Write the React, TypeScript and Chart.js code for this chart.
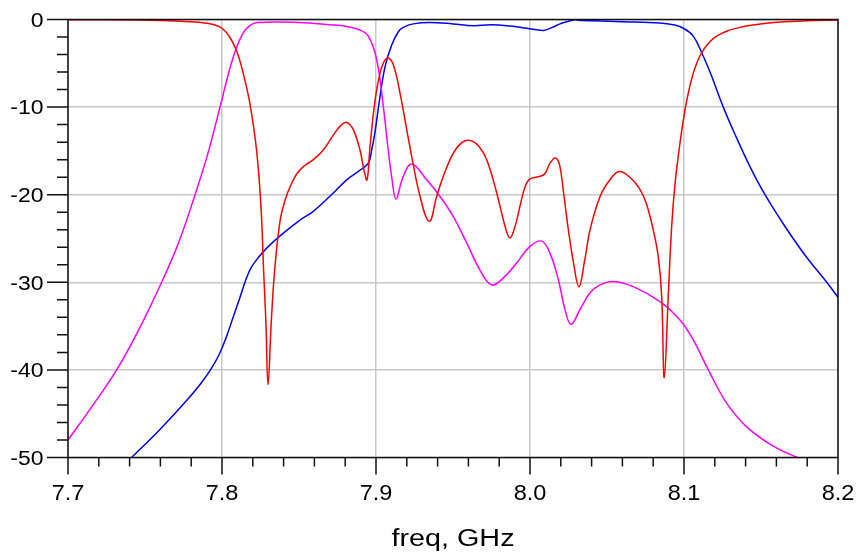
import React, { useEffect, useRef } from 'react';
import { Chart, registerables } from 'chart.js';
Chart.register(...registerables);

// ---------- data ----------
const redFreq = [7.70, 7.74, 7.76, 7.78, 7.79, 7.795, 7.80, 7.805, 7.8095, 7.8136, 7.818, 7.8225, 7.8255, 7.827, 7.8285, 7.8299, 7.832, 7.8342, 7.8377, 7.841, 7.8447, 7.849, 7.8535, 7.8593, 7.8658, 7.8723, 7.8766, 7.881, 7.8853, 7.8896, 7.8922, 7.8942, 7.8961, 7.8994, 7.9026, 7.9052, 7.908, 7.9113, 7.9156, 7.922, 7.9286, 7.9346, 7.9394, 7.9437, 7.9502, 7.9561, 7.961, 7.9665, 7.9719, 7.9784, 7.9838, 7.987, 7.9905, 7.9935, 7.9968, 8.000, 8.0065, 8.0097, 8.013, 8.0165, 8.0192, 8.0216, 8.0249, 8.0281, 8.0318, 8.0355, 8.039, 8.0455, 8.0519, 8.058, 8.0654, 8.0714, 8.0757, 8.080, 8.0833, 8.0855, 8.0872, 8.0898, 8.092, 8.0942, 8.0974, 8.0996, 8.1028, 8.1071, 8.1125, 8.1212, 8.1364, 8.158, 8.18, 8.20];
const redDb = [-0.02, -0.05, -0.1, -0.25, -0.42, -0.6, -1.0, -2.0, -3.6, -6.0, -9.5, -15, -22, -28.6, -34.5, -41.7, -34.5, -28.6, -23.0, -20.6, -18.9, -17.5, -16.7, -16.0, -14.9, -13.2, -12.2, -11.75, -12.6, -14.9, -17.2, -18.3, -14.5, -9.2, -6.1, -4.8, -4.4, -5.2, -8.4, -14.5, -20.2, -23.05, -20.2, -17.9, -15.25, -14.0, -13.8, -14.4, -16.0, -19.8, -23.6, -24.95, -23.5, -21.3, -19.1, -18.2, -17.9, -17.6, -16.4, -15.8, -16.6, -19.5, -24.0, -27.6, -30.5, -27.5, -24, -20.2, -18.3, -17.35, -18.1, -19.4, -21.1, -24, -27.1, -31.6, -40.9, -31.5, -23.6, -18.7, -14.1, -11.45, -8.4, -5.55, -3.5, -1.9, -0.9, -0.35, -0.15, -0.05];

const magFreq = [7.70, 7.7155, 7.7316, 7.746, 7.7608, 7.772, 7.7825, 7.791, 7.7987, 7.8045, 7.809, 7.8135, 7.818, 7.823, 7.85, 7.87, 7.881, 7.8896, 7.895, 7.9005, 7.9048, 7.908, 7.9102, 7.913, 7.9175, 7.9232, 7.9329, 7.9416, 7.9502, 7.9589, 7.9675, 7.9751, 7.9827, 7.9913, 8.000, 8.0076, 8.013, 8.0184, 8.0227, 8.0266, 8.0325, 8.039, 8.0455, 8.0541, 8.0671, 8.0844, 8.0974, 8.1061, 8.1158, 8.1277, 8.1407, 8.158, 8.1753, 8.20];
const magDb = [-48, -44.2, -40, -35.4, -30, -25.4, -20, -15.2, -10, -6, -3.4, -1.6, -0.7, -0.35, -0.35, -0.6, -0.8, -1.2, -1.9, -4.6, -10, -15, -18, -20.5, -18.0, -16.5, -18.3, -20.2, -22.5, -25.5, -28.6, -30.3, -29.5, -27.8, -25.9, -25.3, -26.7, -29.7, -33.1, -34.8, -33.1, -31.2, -30.3, -29.9, -30.5, -32.2, -34.3, -36.6, -40, -43.8, -46.5, -48.7, -50.1, -51.5];

const blueFreq = [7.7413, 7.7597, 7.777, 7.786, 7.7925, 7.798, 7.8025, 7.807, 7.8117, 7.8155, 7.819, 7.8235, 7.829, 7.8377, 7.8506, 7.8593, 7.8723, 7.881, 7.8896, 7.895, 7.8972, 7.8994, 7.9026, 7.906, 7.9102, 7.9145, 7.9177, 7.9242, 7.935, 7.950, 7.963, 7.975, 7.987, 7.998, 8.0087, 8.0145, 8.0195, 8.0281, 8.0325, 8.06, 8.0844, 8.093, 8.0996, 8.106, 8.1115, 8.1169, 8.1255, 8.1336, 8.1426, 8.1526, 8.1655, 8.179, 8.1927, 8.20];
const blueDb = [-50, -46.8, -43.5, -41.6, -40.0, -38.3, -36.4, -34.1, -31.7, -29.7, -28.3, -27.2, -26.1, -24.7, -22.9, -21.9, -19.8, -18.3, -17.2, -16.4, -14.9, -12.8, -8.8, -5.3, -2.9, -1.4, -0.9, -0.5, -0.35, -0.5, -0.7, -0.6, -0.75, -1.0, -1.25, -0.9, -0.5, -0.05, -0.1, -0.25, -0.4, -0.6, -1.0, -1.9, -3.8, -6.0, -10, -13.3, -16.7, -20, -23.6, -27.0, -30, -31.7];

const xTickValues = [7.7, 7.8, 7.9, 8.0, 8.1, 8.2];
const xTickLabels = ['7.7', '7.8', '7.9', '8.0', '8.1', '8.2'];
const yTickValues = [0, -10, -20, -30, -40, -50];
const yTickLabels = ['0', '-10', '-20', '-30', '-40', '-50'];
const xMinorStep = 0.02;
const yMinorStep = 2;
const xAxisTitle = 'freq, GHz';

const pts = (f: number[], d: number[]) => f.map((x, i) => ({ x, y: d[i] }));

function drawStretched(ctx: CanvasRenderingContext2D, text: string, x: number, y: number, align: CanvasTextAlign, sx: number) {
  ctx.save();
  ctx.translate(x, y);
  ctx.scale(sx, 1);
  ctx.textAlign = align;
  ctx.textBaseline = 'alphabetic';
  ctx.fillText(text, 0, 0);
  ctx.restore();
}

const decor = {
  id: 'decor',
  afterDraw(chart: any) {
    const ctx: CanvasRenderingContext2D = chart.ctx;
    const { left, right, top, bottom } = chart.chartArea;
    const xs = chart.scales.x;
    const ys = chart.scales.y;
    ctx.save();
    ctx.strokeStyle = '#111';
    ctx.lineWidth = 1.5;
    ctx.beginPath();
    ctx.rect(left, top, right - left, bottom - top);
    ctx.stroke();
    ctx.beginPath();
    const ny = Math.round((ys.max - ys.min) / yMinorStep);
    for (let i = 0; i <= ny; i++) {
      const v = ys.min + i * yMinorStep;
      const y = ys.getPixelForValue(v);
      const major = Math.abs(v % 10) < 1e-6;
      ctx.moveTo(left - (major ? 21 : 11), y);
      ctx.lineTo(left, y);
    }
    const nx = Math.round((xs.max - xs.min) / xMinorStep);
    for (let i = 0; i <= nx; i++) {
      const v = xs.min + i * xMinorStep;
      const x = xs.getPixelForValue(v);
      const major = i % 5 === 0;
      ctx.moveTo(x, bottom);
      ctx.lineTo(x, bottom + (major ? 17 : 9));
    }
    ctx.stroke();
    ctx.fillStyle = '#000';
    ctx.font = '20px "Liberation Sans", Arial, sans-serif';
    yTickValues.forEach((v, i) => {
      drawStretched(ctx, yTickLabels[i], 43.5, ys.getPixelForValue(v) + 7.2, 'right', 1.15);
    });
    ctx.font = '22px "Liberation Sans", Arial, sans-serif';
    xTickValues.forEach((v, i) => {
      drawStretched(ctx, xTickLabels[i], xs.getPixelForValue(v), 499.5, 'center', 1.07);
    });
    ctx.font = '23px "Liberation Sans", Arial, sans-serif';
    const w = ctx.measureText(xAxisTitle).width;
    drawStretched(ctx, xAxisTitle, (left + right) / 2, 546, 'center', 123 / w);
    ctx.restore();
  },
};

export default function App() {
  const ref = useRef<HTMLCanvasElement>(null);
  useEffect(() => {
    if (!ref.current) return;
    const common = { borderWidth: 1.5, pointRadius: 0, fill: false, tension: 0.4 };
    const chart = new Chart(ref.current, {
      type: 'line',
      data: {
        datasets: [
          { label: 'red', data: pts(redFreq, redDb), borderColor: '#ff0000', ...common },
          { label: 'magenta', data: pts(magFreq, magDb), borderColor: '#ff00ff', ...common },
          { label: 'blue', data: pts(blueFreq, blueDb), borderColor: '#0000ff', ...common },
        ],
      },
      options: {
        responsive: false,
        animation: false,
        devicePixelRatio: 1,
        layout: { padding: { top: 19.5, right: 19, left: 0, bottom: 0 } },
        plugins: { legend: { display: false }, tooltip: { enabled: false } },
        scales: {
          x: {
            type: 'linear', min: 7.7, max: 8.2,
            ticks: { display: false, stepSize: 0.1 },
            grid: { color: '#c8c8c8', lineWidth: 1.5, drawTicks: false },
            border: { display: false },
            afterFit: (s: any) => { s.height = 95.5; },
          },
          y: {
            type: 'linear', min: -50, max: 0,
            ticks: { display: false, stepSize: 10 },
            grid: { color: '#c8c8c8', lineWidth: 1.5, drawTicks: false },
            border: { display: false },
            afterFit: (s: any) => { s.width = 68; },
          },
        },
      },
      plugins: [decor],
    } as any);
    return () => chart.destroy();
  }, []);
  return (
    <div style={{ position: 'fixed', left: 0, top: 0, width: 857, height: 553, background: '#fff' }}>
      <canvas ref={ref} width={857} height={553} style={{ display: 'block' }} />
    </div>
  );
}
